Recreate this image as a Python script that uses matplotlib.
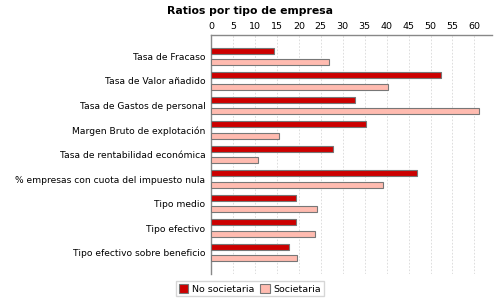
import matplotlib
matplotlib.use('Agg')
import matplotlib.pyplot as plt
import numpy as np

# Data
categories = ['Tasa de Fracaso', 'Tasa de Valor añadido', 'Tasa de Gastos de personal',
              'Margen Bruto de explotación', 'Tasa de rentabilidad económica',
              '% empresas con cuota del impuesto nula', 'Tipo medio', 'Tipo efectivo',
              'Tipo efectivo sobre beneficio']
no_societaria = [14.4, 52.3, 32.7, 35.2, 27.9, 46.9, 19.4, 19.3, 17.8]
societaria = [26.8, 40.3, 61.0, 15.5, 10.8, 39.1, 24.2, 23.8, 19.7]
ticks = np.arange(0, 65, 5)

plt.rcParams['font.family'] = ['DejaVu Sans']
fig = plt.figure(figsize=(5, 3), dpi=100)
ax = fig.add_axes([0.422, 0.087, 0.562, 0.796])

y = np.arange(len(categories))
h = 0.245
off = 0.24
ax.barh(y - off, no_societaria, h, color='#cc0000', edgecolor='#777777', linewidth=0.8,
        label='No societaria', zorder=3)
ax.barh(y + off, societaria, h, color='#ffbbb0', edgecolor='#777777', linewidth=0.8,
        label='Societaria', zorder=3)

ax.set_xlim(0, 64)
ax.set_ylim(len(categories) - 1 + 0.87, -0.87)
ax.set_xticks(ticks)
ax.set_yticks(y)
ax.set_yticklabels(categories)
ax.xaxis.tick_top()
ax.tick_params(axis='x', length=0, pad=3, labelsize=6.8)
ax.tick_params(axis='y', length=0, pad=4, labelsize=6.6)
ax.grid(axis='x', color='#d8d8d8', linestyle=(0, (2, 2)), linewidth=0.6, zorder=0)
for s in ['right', 'bottom']:
    ax.spines[s].set_visible(False)
for s in ['top', 'left']:
    ax.spines[s].set_color('#888888')
    ax.spines[s].set_linewidth(1)

fig.text(0.5, 0.965, 'Ratios por tipo de empresa', ha='center', va='center',
         fontsize=7.8, fontweight='bold')
fig.legend(loc='center', bbox_to_anchor=(0.5, 0.037), ncol=2, fontsize=6.8,
           frameon=True, fancybox=False, edgecolor='#cccccc', handlelength=1,
           handleheight=1, handletextpad=0.4, columnspacing=0.6, borderpad=0.3)

fig.savefig('out.png', dpi=100)
